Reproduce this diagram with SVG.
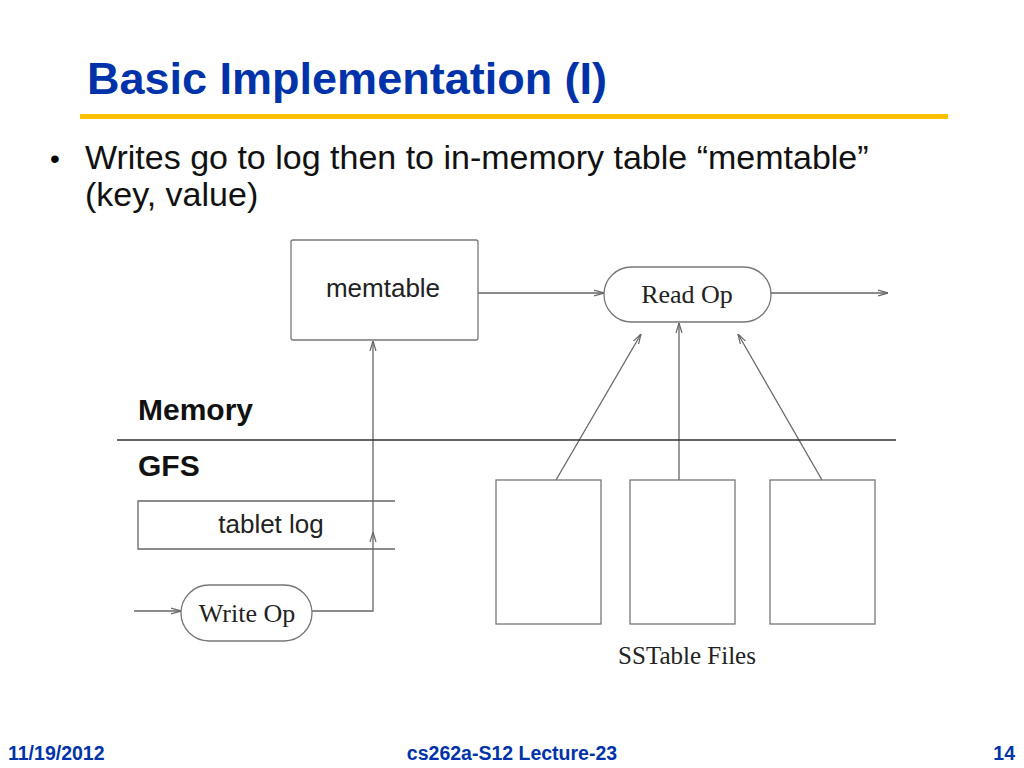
<svg xmlns="http://www.w3.org/2000/svg" width="1024" height="768" viewBox="0 0 1024 768">
<style>
.s{font-family:"Liberation Sans",Arial,sans-serif}
.f{font-family:"Liberation Serif","Times New Roman",serif;fill:#222}
.ln{stroke:#666;stroke-width:1.3;fill:none}
.bx{stroke:#777;stroke-width:1.3;fill:#fff}
</style>
<defs><marker id="a" viewBox="0 0 10 10" refX="10" refY="5" markerWidth="10" markerHeight="10" markerUnits="userSpaceOnUse" orient="auto"><path d="M0,2 L10,5 L0,8" fill="none" stroke="#666" stroke-width="1.2"/></marker></defs>
<rect width="1024" height="768" fill="#fff"/>
<text x="87" y="94" class="s" font-size="45" font-weight="bold" fill="#0033aa">Basic Implementation (I)</text>
<rect x="80" y="114" width="868" height="5" fill="#ffc000"/>
<text x="50" y="168" class="s" font-size="28">•</text>
<text x="85" y="169" class="s" font-size="34" fill="#111">Writes go to log then to in-memory table “memtable”</text>
<text x="85" y="206" class="s" font-size="34" fill="#111">(key, value)</text>
<g id="connectors">
<line x1="478" y1="293" x2="604" y2="293" class="ln" marker-end="url(#a)"/>
<line x1="771" y1="293" x2="888" y2="293" class="ln" marker-end="url(#a)"/>
<line x1="134" y1="611" x2="181" y2="611" class="ln" marker-end="url(#a)"/>
<polyline points="312,611 373,611 373,532" class="ln" marker-end="url(#a)"/>
<line x1="373" y1="532" x2="373" y2="341" class="ln" marker-end="url(#a)"/>
<line x1="556" y1="480" x2="641" y2="334" class="ln" marker-end="url(#a)"/>
<line x1="679" y1="480" x2="679" y2="323" class="ln" marker-end="url(#a)"/>
<line x1="822" y1="480" x2="738" y2="334" class="ln" marker-end="url(#a)"/>
</g>
<g id="memtable"><rect x="291" y="240" width="187" height="100" rx="2" class="bx"/><text x="383" y="297" text-anchor="middle" class="s" font-size="26" fill="#222">memtable</text></g>
<g id="readop"><rect x="604" y="267" width="167" height="55" rx="27.5" class="bx"/><text x="687" y="303" text-anchor="middle" class="f" font-size="26">Read Op</text></g>
<g id="divider"><line x1="117" y1="440" x2="896" y2="440" stroke="#333" stroke-width="1.5"/>
<text x="138" y="420" class="s" font-size="30" font-weight="bold" fill="#111">Memory</text>
<text x="138" y="476" class="s" font-size="30" font-weight="bold" fill="#111">GFS</text></g>
<g id="tabletlog"><path d="M395,501 H138 V549 H395" class="ln" stroke="#777"/><text x="271" y="533" text-anchor="middle" class="s" font-size="26" fill="#222">tablet log</text></g>
<g id="writeop"><rect x="181" y="585" width="131" height="56" rx="28" class="bx"/><text x="247" y="622" text-anchor="middle" class="f" font-size="26">Write Op</text></g>
<g id="sstables">
<rect x="496" y="480" width="105" height="144" class="bx"/>
<rect x="630" y="480" width="105" height="144" class="bx"/>
<rect x="770" y="480" width="105" height="144" class="bx"/>
<text x="687" y="664" text-anchor="middle" class="f" font-size="25">SSTable Files</text></g>
<g id="footer" class="s" font-size="19.5" font-weight="bold" fill="#0033aa">
<text x="8" y="760">11/19/2012</text>
<text x="512" y="760" text-anchor="middle">cs262a-S12 Lecture-23</text>
<text x="1015" y="760" text-anchor="end">14</text></g>
</svg>
